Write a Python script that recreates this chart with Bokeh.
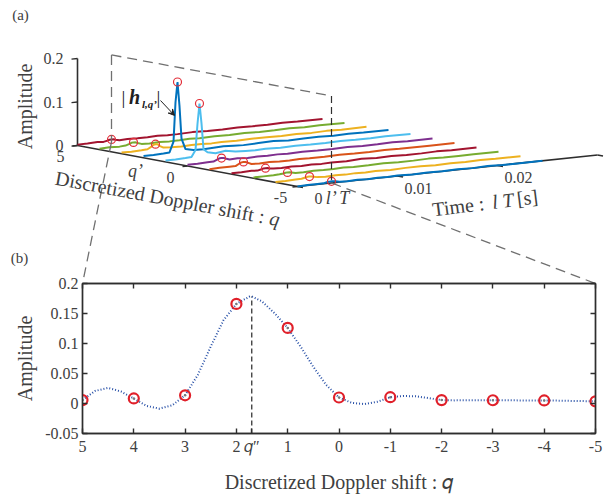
import numpy as np
from bokeh.plotting import figure
from bokeh.layouts import column
from bokeh.models import Range1d, FixedTicker, LinearAxis, Arrow, VeeHead
from bokeh.core.properties import value
from bokeh.embed import file_html
from bokeh.resources import INLINE

# ------------------------------------------------------------------ data
# (b) Doppler slice at time l'T
q_bins = [5, 4, 3, 2, 1, 0, -1, -2, -3, -4, -5]
amp_at_lprime = [0.0057, 0.0084, 0.0137, 0.166, 0.126, 0.0100, 0.0105, 0.0057, 0.0054, 0.0051, 0.0036]
q_fine = [5.0, 4.75, 4.5, 4.25, 4.0, 3.75, 3.5, 3.25, 3.0, 2.75, 2.5, 2.25, 2.0, 1.75, 1.7, 1.5,
          1.25, 1.0, 0.75, 0.5, 0.25, 0.0, -0.25, -0.5, -0.75, -1.0, -1.25, -1.5, -1.75, -2.0,
          -2.25, -2.5, -2.75, -3.0, -3.25, -3.5, -3.75, -4.0, -4.25, -4.5, -4.75, -5.0]
amp_fine = [0.006, 0.021, 0.026, 0.020, 0.0084, -0.004, -0.0086, -0.003, 0.0137, 0.048, 0.095,
            0.139, 0.166, 0.178, 0.1785, 0.170, 0.150, 0.126, 0.095, 0.061, 0.031, 0.010, 0.001,
            -0.001, 0.003, 0.0105, 0.0125, 0.012, 0.009, 0.0057, 0.0052, 0.0053, 0.0055, 0.0054,
            0.0053, 0.0052, 0.0051, 0.0051, 0.0048, 0.0044, 0.0040, 0.0036]
q_dd = 1.7                      # q''
q_dd_label = "\U0001D45E\u2033"
amp_ticks_b = [-0.05, 0, 0.05, 0.1, 0.15, 0.2]
amp_tick_labels_b = ["-0.05", "0", "0.05", "0.1", "0.15", "0.2"]
q_tick_labels_b = ["5", "4", "3", "2", "1", "0", "-1", "-2", "-3", "-4", "-5"]
x_title_b = "Discretized Doppler shift : \U0001D45E"

# (a) waterfall: amplitude versus time for each Doppler bin q
l_prime_T = 0.0034
time_s = [0.0000, 0.0010, 0.0020, 0.0026, 0.0030, 0.0032, 0.0034, 0.0036, 0.0038, 0.0042, 0.0050,
          0.0060, 0.0070, 0.0080, 0.0090, 0.0100, 0.0115, 0.0130, 0.0145, 0.0160, 0.0175, 0.0190,
          0.0205, 0.0220, 0.0245]
amp_q5 = [0.002, 0.002, 0.003, 0.002, 0.004, 0.0055, 0.0057, 0.0055, 0.004, 0.002, 0.003, 0.002, 0.002,
          0.003, 0.002, 0.002, 0.003, 0.002, 0.002, 0.003, 0.002, 0.002, 0.003, 0.002, 0.002]
amp_q4 = [0.002, 0.003, 0.002, 0.003, 0.006, 0.008, 0.0084, 0.008, 0.006, 0.003, 0.002, 0.003, 0.002,
          0.002, 0.003, 0.002, 0.003, 0.002, 0.003, 0.002, 0.002, 0.003, 0.002, 0.003, 0.002]
amp_q3 = [0.003, 0.002, 0.003, 0.004, 0.009, 0.013, 0.0137, 0.013, 0.009, 0.004, 0.003, 0.002, 0.003,
          0.003, 0.002, 0.003, 0.002, 0.003, 0.003, 0.002, 0.003, 0.002, 0.003, 0.002, 0.003]
amp_q2 = [0.004, 0.004, 0.005, 0.006, 0.030, 0.120, 0.166, 0.110, 0.035, 0.010, 0.006, 0.005, 0.006,
          0.007, 0.006, 0.005, 0.006, 0.007, 0.005, 0.006, 0.006, 0.005, 0.006, 0.005, 0.005]
amp_q1 = [0.003, 0.003, 0.004, 0.005, 0.020, 0.080, 0.126, 0.080, 0.020, 0.012, 0.008, 0.011, 0.007,
          0.006, 0.005, 0.006, 0.005, 0.006, 0.005, 0.005, 0.006, 0.005, 0.005, 0.006, 0.005]
amp_q0 = [0.003, 0.003, 0.004, 0.004, 0.008, 0.010, 0.0100, 0.010, 0.008, 0.005, 0.006, 0.004, 0.005,
          0.004, 0.005, 0.004, 0.005, 0.004, 0.004, 0.005, 0.004, 0.004, 0.005, 0.004, 0.004]
amp_qm1 = [0.002, 0.003, 0.003, 0.003, 0.008, 0.010, 0.0105, 0.010, 0.008, 0.004, 0.003, 0.004, 0.003,
           0.003, 0.004, 0.003, 0.003, 0.004, 0.003, 0.003, 0.004, 0.003, 0.003, 0.003, 0.003]
amp_qm2 = [0.002, 0.002, 0.003, 0.002, 0.004, 0.0055, 0.0057, 0.0055, 0.004, 0.003, 0.002, 0.003, 0.002,
           0.003, 0.002, 0.003, 0.002, 0.004, 0.002, 0.003, 0.002, 0.002, 0.003, 0.002, 0.002]
amp_qm3 = [0.002, 0.002, 0.002, 0.003, 0.004, 0.005, 0.0054, 0.005, 0.004, 0.002, 0.002, 0.003, 0.002,
           0.002, 0.003, 0.002, 0.002, 0.003, 0.002, 0.002, 0.003, 0.002, 0.002, 0.002, 0.002]
amp_qm4 = [0.001, 0.001, 0.002, 0.002, 0.004, 0.005, 0.0051, 0.005, 0.004, 0.002, 0.001, 0.002, 0.001,
           0.002, 0.001, 0.002, 0.001, 0.002, 0.002, 0.001, 0.002, 0.001, 0.002, 0.001, 0.001]
amp_qm5 = [0.000, 0.001, 0.001, 0.001, 0.003, 0.0035, 0.0036, 0.0035, 0.003, 0.001, 0.000, 0.001, 0.000,
           0.001, 0.000, 0.001, 0.000, 0.001, 0.000, 0.001, 0.000, 0.001, 0.000, 0.000, 0.000]
waterfall = [amp_q5, amp_q4, amp_q3, amp_q2, amp_q1, amp_q0, amp_qm1, amp_qm2, amp_qm3, amp_qm4, amp_qm5]
line_colors = ["#A2142F", "#77AC30", "#EDB120", "#0072BD", "#4DBEEE", "#7E2F8E",
               "#D95319", "#A2142F", "#77AC30", "#EDB120", "#0072BD"]
amp_ticks_a = [0, 0.1, 0.2]
amp_tick_labels_a = ["0", "0.1", "0.2"]
q_ticks_a = [5, 0, -5]
q_tick_labels_a = ["5", "0", "-5"]
time_ticks = [0, 0.01, 0.02, 0.03]
time_tick_labels = ["0", "0.01", "0.02", ""]
time_axis_max = 0.030

# ------------------------------------------------------------------ style / layout
FONT = "Liberation Serif"
TXT = "#404040"
AXC = "#2e2e2e"
DASH_GREY = "#707070"
W = 607
TOTAL_H = 495
# frame of panel (b) in page pixels
BX0, BX1, BY0, BY1 = 82.0, 595.0, 283.0, 440.0
B_BORDER_TOP = 13
TOP_H = int(BY0)                          # panel (a) canvas reaches the top of frame (b)
B_H = TOTAL_H - TOP_H + B_BORDER_TOP      # panel (b) overlaps (a) by its top border

# oblique projection of the 3-D axes (page pixels)
PX0, PY0 = 77.0, 145.0          # (q=5, t=0, amp=0)
DQX, DQY = 22.0, 4.1            # per unit of decreasing q
DTX, DTY = 10000.0, -1050.0     # per second
DA = 435.0                      # per amplitude unit


def proj(q, t, a):
    q = np.asarray(q, float); t = np.asarray(t, float); a = np.asarray(a, float)
    x = PX0 + (5 - q) * DQX + t * DTX
    y = PY0 + (5 - q) * DQY + t * DTY - a * DA
    return x, y


# ------------------------------------------------------------------ panel (a)
pa = figure(width=W, height=TOP_H, x_range=Range1d(0, W), y_range=Range1d(TOP_H, 0),
            x_axis_type=None, y_axis_type=None, output_backend="svg", toolbar_location=None,
            min_border=0, min_border_left=0, min_border_right=0, min_border_top=0, min_border_bottom=0)
pa.outline_line_color = None
pa.background_fill_color = None
pa.border_fill_color = None
pa.frame_align = False


def txt(fig, x, y, s, size="20px", style="normal", align="center", baseline="middle", angle=0.0, color=TXT):
    fig.text(x=[float(x)], y=[float(y)], text=[s], text_font=value(FONT), text_font_size=size,
             text_font_style=style, text_align=align, text_baseline=baseline, angle=angle,
             text_color=color)


# axes lines
x0, y0 = proj(5, 0, 0); x1, y1 = proj(5, 0, 0.2)
x2, y2 = proj(-5, 0, 0); x3, y3 = proj(-5, time_axis_max, 0)
pa.segment(x0=[x0, x0, x2], y0=[y0, y0, y2], x1=[x1, x2, x3], y1=[y1, y2, y3],
           line_color=AXC, line_width=1.6)
# ticks
ta0 = proj(5, 0, amp_ticks_a); ta1 = proj(5, -0.0006, amp_ticks_a)
pa.segment(x0=ta0[0], y0=ta0[1], x1=ta1[0], y1=ta1[1], line_color=AXC, line_width=1.4)
tq0 = proj(q_ticks_a, 0, 0); tq1 = proj(q_ticks_a, -0.0005, 0)
pa.segment(x0=tq0[0], y0=tq0[1], x1=tq1[0], y1=tq1[1], line_color=AXC, line_width=1.4)
tt0 = proj(-5, time_ticks, 0); tt1 = proj(-5.25, time_ticks, 0)
pa.segment(x0=tt0[0], y0=tt0[1], x1=tt1[0], y1=tt1[1], line_color=AXC, line_width=1.4)

# tick labels
for a, s in zip(amp_ticks_a, amp_tick_labels_a):
    x, y = proj(5, 0, a)
    txt(pa, x - 14, y, s, size="16px", align="right")
for q, s in zip(q_ticks_a, q_tick_labels_a):
    x, y = proj(q, 0, 0)
    txt(pa, x - 17, y + 11, s, size="16px")
for t, s in zip(time_ticks, time_tick_labels):
    if s:
        x, y = proj(-5, t, 0)
        txt(pa, x + 21, y + 12, s, size="16px")

# waterfall lines (back to front)
for q, amps, col in zip(q_bins, waterfall, line_colors):
    xs, ys = proj(q, time_s, amps)
    pa.line(xs, ys, line_color=col, line_width=2.0)

# samples at l'T
i_lp = time_s.index(l_prime_T)
cx, cy = proj(q_bins, l_prime_T, [w[i_lp] for w in waterfall])
pa.scatter(cx, cy, size=8, marker="circle", fill_color=None, line_color="#e2303a", line_width=1.2)

# slice plane at l'T and the projection lines to panel (b)
A = proj(5, l_prime_T, 0.2); B = proj(-5, l_prime_T, 0.2)
C = proj(-5, l_prime_T, 0); D = proj(5, l_prime_T, 0)
pa.segment(x0=[A[0], A[0]], y0=[A[1], A[1]], x1=[B[0], D[0]], y1=[B[1], D[1]],
           line_color=DASH_GREY, line_width=1.3, line_dash="10 6")
pa.segment(x0=[B[0]], y0=[B[1]], x1=[C[0]], y1=[C[1]], line_color="#303030", line_width=1.2,
           line_dash="7 4")
pa.segment(x0=[D[0], C[0]], y0=[D[1], C[1]], x1=[BX0, BX1], y1=[BY0, BY0],
           line_color=DASH_GREY, line_width=1.3, line_dash="10 6")

# texts of panel (a)
txt(pa, 20, 14, "(a)", size="15px")
txt(pa, 19, 257, "(b)", size="15px")
txt(pa, 24, 106, "Amplitude", angle=np.pi / 2)
ang_q = 0.185
dq = (np.cos(ang_q), np.sin(ang_q))
sx, sy = 55.0, 177.0
txt(pa, sx, sy, "Discretized Doppler shift :", align="left", angle=-ang_q)
txt(pa, sx + 218 * dq[0], sy + 218 * dq[1], "q", style="italic", align="left", angle=-ang_q)
ang_t = 0.125
dt = (np.cos(ang_t), -np.sin(ang_t))
tx, ty = 432.0, 209.0
txt(pa, tx, ty, "Time :", align="left", angle=ang_t)
txt(pa, tx + 60 * dt[0], ty + 60 * dt[1], "l T", style="italic", align="left", angle=ang_t)
txt(pa, tx + 85 * dt[0], ty + 85 * dt[1], "[s]", align="left", angle=ang_t)
txt(pa, 135, 170, "q\u2019", style="italic", size="18px")
txt(pa, 338, 197, "l\u2019 T", style="italic", size="18px")
# |h_{l,q'}|
txt(pa, 123, 97, "|", size="19px", color="#202020")
txt(pa, 134, 96, "h", size="20px", style="bold italic", color="#202020")
txt(pa, 149, 103, "l,q\u2019", size="11px", style="bold italic", color="#202020")
txt(pa, 158, 97, "|", size="19px", color="#202020")
ah = proj(2, 0.0031, 0.09)
pa.add_layout(Arrow(end=VeeHead(size=6, line_color="#202020", fill_color="#202020"),
                    x_start=160, y_start=100, x_end=float(ah[0]), y_end=float(ah[1]),
                    line_color="#202020", line_width=1.0))

# ------------------------------------------------------------------ panel (b)
pb = figure(width=W, height=B_H, x_range=Range1d(5, -5), y_range=Range1d(-0.05, 0.2),
            output_backend="svg", toolbar_location=None,
            min_border_left=int(BX0), min_border_right=int(W - BX1),
            min_border_top=B_BORDER_TOP, min_border_bottom=int(TOTAL_H - BY1))
pb.frame_align = False
pb.styles = {"margin-top": f"-{B_BORDER_TOP}px"}
pb.xgrid.visible = False
pb.ygrid.visible = False
pb.outline_line_color = AXC
pb.outline_line_width = 1.4
pb.background_fill_color = None
pb.border_fill_color = None


def style_axis(ax, ticks, labels, show):
    ax.ticker = FixedTicker(ticks=ticks)
    ax.major_tick_in = 5
    ax.major_tick_out = 0
    ax.minor_tick_line_color = None
    ax.axis_line_color = AXC
    ax.axis_line_width = 1.4
    ax.major_tick_line_color = AXC
    ax.major_tick_line_width = 1.4
    ax.major_label_text_font = FONT
    ax.major_label_text_color = TXT
    if show:
        ax.major_label_text_font_size = "16px"
        ax.major_label_overrides = {t: s for t, s in zip(ticks, labels)}
    else:
        ax.major_label_text_font_size = "2px"
        ax.major_label_overrides = {t: "" for t in ticks}
        ax.major_label_standoff = 0


style_axis(pb.xaxis[0], q_bins + [q_dd], q_tick_labels_b + [q_dd_label], True)
style_axis(pb.yaxis[0], amp_ticks_b, amp_tick_labels_b, True)
pb.xaxis[0].major_label_standoff = 4
pb.xaxis[0].axis_label = x_title_b
pb.xaxis[0].axis_label_text_font = FONT
pb.xaxis[0].axis_label_text_font_size = "20px"
pb.xaxis[0].axis_label_text_font_style = "normal"
pb.xaxis[0].axis_label_text_color = TXT
pb.xaxis[0].axis_label_standoff = 13
pb.yaxis[0].major_label_standoff = 4
pb.yaxis[0].axis_label = "Amplitude"
pb.yaxis[0].axis_label_text_font = FONT
pb.yaxis[0].axis_label_text_font_size = "20px"
pb.yaxis[0].axis_label_text_font_style = "normal"
pb.yaxis[0].axis_label_text_color = TXT
pb.yaxis[0].axis_label_standoff = 6
ax_top = LinearAxis()
style_axis(ax_top, q_bins, q_tick_labels_b, False)
pb.add_layout(ax_top, "above")
ax_right = LinearAxis()
style_axis(ax_right, amp_ticks_b, amp_tick_labels_b, False)
pb.add_layout(ax_right, "right")

pb.line([q_dd, q_dd], [-0.05, max(amp_fine)], line_color="#111111", line_width=1.1, line_dash="5 3")
pb.line(q_fine, amp_fine, line_color="#2a52a8", line_width=2.0, line_dash="1 2")
pb.scatter(q_bins, amp_at_lprime, size=10, marker="circle", fill_color=None,
           line_color="#e0202a", line_width=2.2)
pb.scatter(q_bins, amp_at_lprime, size=2.5, marker="circle", fill_color="#7a7a7a", line_color=None)

layout = column(pa, pb, spacing=0)
open("out.html", "w").write(file_html(layout, INLINE))
